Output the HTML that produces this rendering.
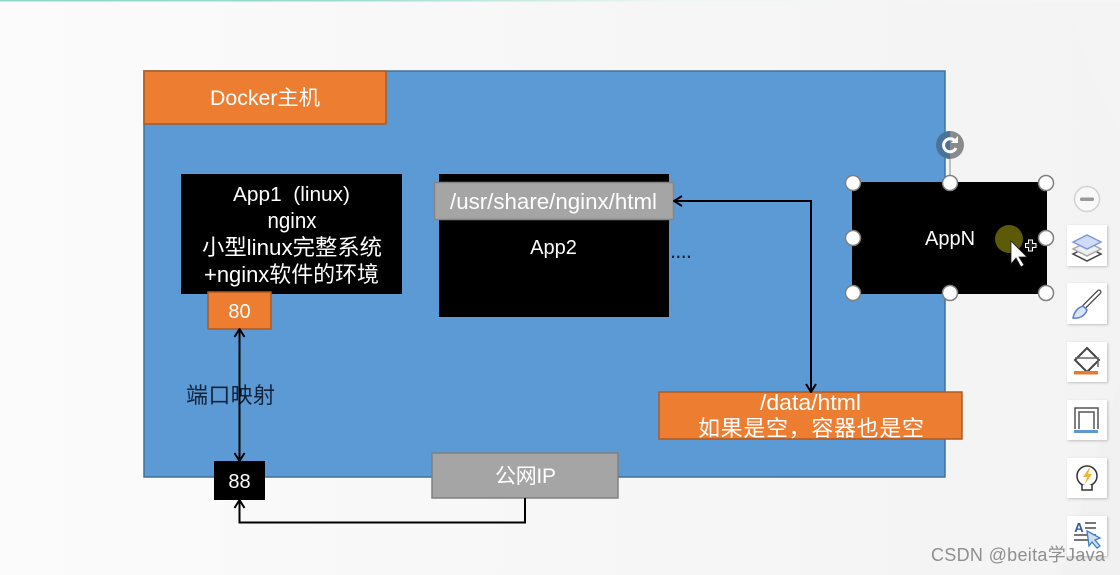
<!DOCTYPE html>
<html><head><meta charset="utf-8">
<style>
html,body{margin:0;padding:0;width:1120px;height:575px;overflow:hidden;background:#f8f8f8}
svg{display:block}
text{font-family:"Liberation Sans","Noto Sans CJK SC",sans-serif;text-anchor:middle;fill:#fff;font-size:20px}
.tile{fill:#fff;filter:url(#sh)}
</style></head><body>
<svg width="1120" height="575" viewBox="0 0 1120 575" xmlns="http://www.w3.org/2000/svg">
<defs>
<linearGradient id="top" x1="0" x2="1" y1="0" y2="0"><stop offset="0" stop-color="#8fd8c8"/><stop offset=".3" stop-color="#9adccd"/><stop offset=".6" stop-color="#eef6f5"/><stop offset="1" stop-color="#f6f6f6"/></linearGradient>
<linearGradient id="bg" x1="0" x2="1" y1="0" y2="0"><stop offset="0" stop-color="#fbfbfb"/><stop offset="1" stop-color="#f3f3f3"/></linearGradient>
<filter id="sh" x="-20%" y="-20%" width="140%" height="140%"><feDropShadow dx="1" dy="1" stdDeviation="1.2" flood-color="#000" flood-opacity=".22"/></filter>
<marker id="a" markerUnits="userSpaceOnUse" viewBox="0 0 12 12" refX="11" refY="6" markerWidth="12" markerHeight="12" orient="auto-start-reverse"><path d="M3 1 L11 6 L3 11" fill="none" stroke="#000" stroke-width="2"/></marker>
</defs>
<rect width="1120" height="575" fill="url(#bg)"/>
<path d="M1065 0L1120 0 1120 130 1090 70Z" fill="#f4f4f4"/>
<path d="M1120 575L1060 575 1120 380Z" fill="#f1f1f1"/>
<rect width="1120" height="1.5" fill="url(#top)"/>

<rect x="144" y="71" width="801" height="406" fill="#5b9ad5" stroke="#41719c" stroke-width="1.5"/>
<rect x="144" y="71" width="242" height="53" fill="#ed7d31" stroke="#ae5a21" stroke-width="1.5"/>
<text x="265" y="105" textLength="110" lengthAdjust="spacingAndGlyphs" style="font-size:21px">Docker主机</text>

<rect x="181" y="174" width="221" height="120" fill="#000"/>
<text x="291.500" y="201" textLength="117" lengthAdjust="spacingAndGlyphs" xml:space="preserve">App1  (linux)</text>
<text x="292" y="228" textLength="49" lengthAdjust="spacingAndGlyphs" style="font-size:22px">nginx</text>
<text x="292" y="255" textLength="180" lengthAdjust="spacingAndGlyphs" style="font-size:22px">小型linux完整系统</text>
<text x="291.500" y="282" textLength="175" lengthAdjust="spacingAndGlyphs" style="font-size:22px">+nginx软件的环境</text>
<rect x="208" y="292" width="63" height="37" fill="#ed7d31" stroke="#ae5a21" stroke-width="1.5"/>
<text x="239.500" y="318">80</text>

<rect x="439" y="174" width="230" height="143" fill="#000"/>
<rect x="434.500" y="182.500" width="239" height="37" fill="#a5a5a5" stroke="#858585" stroke-width="1.5"/>
<text x="553.500" y="209" textLength="207" lengthAdjust="spacingAndGlyphs" style="font-size:22px">/usr/share/nginx/html</text>
<text x="553.500" y="254">App2</text>
<text x="681" y="258" textLength="22" style="fill:#10233a;font-size:22px">....</text>

<text x="230.500" y="403" textLength="89" style="fill:#13243a;font-size:22px">端口映射</text>

<rect x="659" y="392" width="303" height="47" fill="#ed7d31" stroke="#ae5a21" stroke-width="1.5"/>
<text x="810.500" y="410" textLength="101" lengthAdjust="spacingAndGlyphs" style="font-size:22px">/data/html</text>
<text x="811" y="436" textLength="226" style="font-size:22px">如果是空，容器也是空</text>

<rect x="214" y="461" width="51" height="39" fill="#000"/>
<text x="239.500" y="488">88</text>
<rect x="432" y="453" width="186" height="45" fill="#a5a5a5" stroke="#808080" stroke-width="1.5"/>
<text x="525.500" y="483" textLength="61" style="font-size:21px">公网IP</text>

<path d="M239.500 329V461" fill="none" stroke="#000" stroke-width="2" marker-start="url(#a)" marker-end="url(#a)"/>
<path d="M525 498V522.500H239.500V500" fill="none" stroke="#000" stroke-width="2" marker-end="url(#a)"/>
<path d="M674 201H811V392" fill="none" stroke="#000" stroke-width="2" marker-start="url(#a)" marker-end="url(#a)"/>

<rect x="852" y="182" width="195" height="112" fill="#000"/>
<text x="950" y="245">AppN</text>
<line x1="950" y1="155" x2="950" y2="182" stroke="#888" stroke-width="1"/>
<circle cx="950" cy="145" r="14" fill="#8a8a8a"/>
<path d="M936 145a14 14 0 0 1 14-14V159a14 14 0 0 1-14-14Z" fill="#4a7397"/>
<path d="M956 148a6.500 6.500 0 1 1-1-7" fill="none" stroke="#fff" stroke-width="3"/>
<path d="M958 136v7h-7Z" fill="#fff"/>
<g fill="#fff" stroke="#7f7f7f" stroke-width="1.5">
<circle cx="853" cy="183" r="7.500"/><circle cx="950" cy="183" r="7.500"/><circle cx="1046" cy="183" r="7.500"/>
<circle cx="853" cy="238" r="7.500"/><circle cx="1046" cy="238" r="7.500"/>
<circle cx="853" cy="293" r="7.500"/><circle cx="950" cy="293" r="7.500"/><circle cx="1046" cy="293" r="7.500"/>
</g>
<circle cx="1009" cy="239" r="14" fill="#5c5a06"/>
<path d="M1011 241V264L1016 258 1021 267 1024 265 1019 257H1027Z" fill="#fff" stroke="#222" stroke-width=".8"/>
<path d="M1025.500 243.500h3v-3.500h4v3.500h3.500v4h-3.500v3.500h-4v-3.500h-3Z" fill="#222" stroke="#fff" stroke-width="1"/>

<circle cx="1087" cy="199" r="12.500" fill="#f8f8f8" stroke="#d2d2d2" stroke-width="1.500"/>
<rect x="1080" y="197.500" width="14" height="3.500" rx="1.500" fill="#999"/>

<rect class="tile" x="1067" y="225" width="40" height="41"/>
<path d="M1073 254l14-7 14 7-14 7Z" fill="none" stroke="#444" stroke-width="1.500"/>
<path d="M1073 249l14-7 14 7-14 7Z" fill="#eee" stroke="#aaa" stroke-width="1.500"/>
<path d="M1073 242l14-7 14 7-14 7Z" fill="#cfdcf6" stroke="#7d9ad8" stroke-width="1.500"/>

<rect class="tile" x="1067" y="283" width="40" height="41"/>
<path d="M1099 292l-16 16" stroke="#444" stroke-width="5" stroke-linecap="round"/>
<path d="M1099 292l-16 16" stroke="#fff" stroke-width="2.500" stroke-linecap="round"/>
<path d="M1083 306c-6 2-9 7-10 12 6 1 12-2 14-8Z" fill="#dbe5f8" stroke="#5b80cc" stroke-width="1.500"/>

<rect class="tile" x="1067" y="342" width="40" height="40"/>
<path d="M1087 348l12 12-12 12-12-12Z" fill="none" stroke="#444" stroke-width="2"/>
<path d="M1075 358h23v9" fill="none" stroke="#666" stroke-width="1.500"/>
<rect x="1074" y="371" width="24" height="3.500" fill="#e8792d"/>

<rect class="tile" x="1067" y="400" width="40" height="40"/>
<path d="M1075 429V408H1098V429M1079 429V412H1094V429" fill="none" stroke="#555" stroke-width="1.500"/>
<rect x="1074" y="430" width="24" height="3" fill="#5b9ad5"/>

<rect class="tile" x="1067" y="458" width="40" height="40"/>
<circle cx="1087" cy="476" r="10" fill="#fff" stroke="#333" stroke-width="1.500"/>
<path d="M1082 485v5h10v-5" fill="#fff" stroke="#333" stroke-width="1.500"/>
<path d="M1089 468l-6 9h4l-2 7 7-10h-4l2-6Z" fill="#f2b632"/>

<rect class="tile" x="1067" y="516" width="40" height="40"/>
<path d="M1085 523h11M1085 528h11M1074 535h22M1074 540h20" stroke="#777" stroke-width="2"/>
<text x="1079" y="532" style="fill:#2f5c9e;font-size:13px;font-weight:bold">A</text>
<path d="M1087 531l13 7-5 2 5 6-3 2-5-6-3 4Z" fill="#cfe0f6" stroke="#3f7fc2" stroke-width="1.300"/>

<text x="1018" y="561" textLength="174" style="fill:#7d7d7d;fill-opacity:.85;font-size:18px">CSDN @beita学Java</text>
</svg>
</body></html>
